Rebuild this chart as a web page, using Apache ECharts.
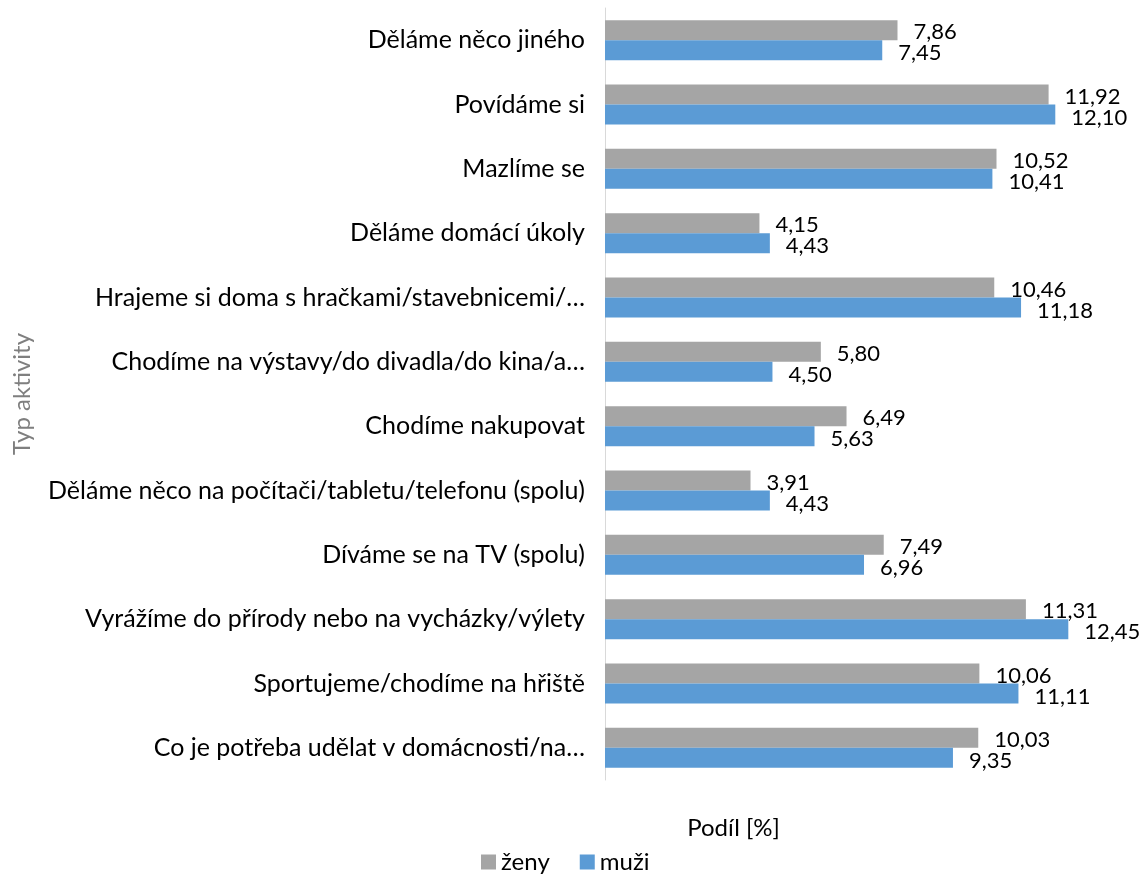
<!DOCTYPE html>
<html>
<head>
<meta charset="utf-8">
<script src="https://cdn.jsdelivr.net/npm/echarts@6/dist/echarts.min.js"></script>
<style>
  html, body { margin: 0; padding: 0; background: #fff; }
  #main { width: 1141px; height: 886px; }
</style>
</head>
<body>
<div id="main"></div>
<script>
// categories, top to bottom
const categories = [
  'Děláme něco jiného',
  'Povídáme si',
  'Mazlíme se',
  'Děláme domácí úkoly',
  'Hrajeme si doma s hračkami/stavebnicemi/…',
  'Chodíme na výstavy/do divadla/do kina/a…',
  'Chodíme nakupovat',
  'Děláme něco na počítači/tabletu/telefonu (spolu)',
  'Díváme se na TV (spolu)',
  'Vyrážíme do přírody nebo na vycházky/výlety',
  'Sportujeme/chodíme na hřiště',
  'Co je potřeba udělat v domácnosti/na…'
];
const zeny = [7.86, 11.92, 10.52, 4.15, 10.46, 5.80, 6.49, 3.91, 7.49, 11.31, 10.06, 10.03];
const muzi = [7.45, 12.10, 10.41, 4.43, 11.18, 4.50, 5.63, 4.43, 6.96, 12.45, 11.11, 9.35];

const font = 'Lato, sans-serif';

let myChart = echarts.init(document.getElementById('main'));

function fmt(p) {
  return p.value.toFixed(2).replace('.', ',');
}

let option = {
  animation: false,
  textStyle: { fontFamily: font },
  legend: {
    bottom: 7,
    left: 476,
    itemWidth: 15,
    itemHeight: 15,
    itemGap: 30,
    icon: 'rect',
    textStyle: { fontSize: 24, color: '#000', fontFamily: font },
    data: ['ženy', 'muži']
  },
  grid: { left: 605, right: 15, top: 8, bottom: 106 },
  xAxis: {
    type: 'value',
    min: 0,
    max: 14,
    interval: 2,
    axisLabel: { show: false },
    axisLine: { show: false },
    axisTick: { show: false },
    splitLine: { show: false },
    name: 'Podíl [%]',
    nameLocation: 'middle',
    nameGap: 36,
    nameTextStyle: { fontSize: 24, color: '#000', padding: [0, 264, 0, 0] }
  },
  yAxis: {
    type: 'category',
    inverse: true,
    data: categories,
    axisLine: { lineStyle: { color: '#d9d9d9', width: 1 } },
    axisTick: { length: 6, lineStyle: { color: '#d9d9d9' } },
    axisLabel: { fontSize: 25, color: '#000', margin: 20 },
    name: 'Typ aktivity',
    nameLocation: 'middle',
    nameGap: 571,
    nameTextStyle: { fontSize: 24, color: '#7f7f7f' }
  },
  series: [
    {
      name: 'ženy',
      type: 'bar',
      data: zeny,
      barWidth: 20,
      barGap: '0%',
      itemStyle: { color: '#a5a5a5' },
      label: {
        show: true, position: 'right', distance: 16, offset: [0, 2],
        fontSize: 22, color: '#000', formatter: fmt
      }
    },
    {
      name: 'muži',
      type: 'bar',
      data: muzi,
      barWidth: 20,
      barGap: '0%',
      itemStyle: { color: '#5b9bd5' },
      label: {
        show: true, position: 'right', distance: 16, offset: [0, 3],
        fontSize: 22, color: '#000', formatter: fmt
      }
    }
  ]
};
myChart.setOption(option);
</script>
</body>
</html>
